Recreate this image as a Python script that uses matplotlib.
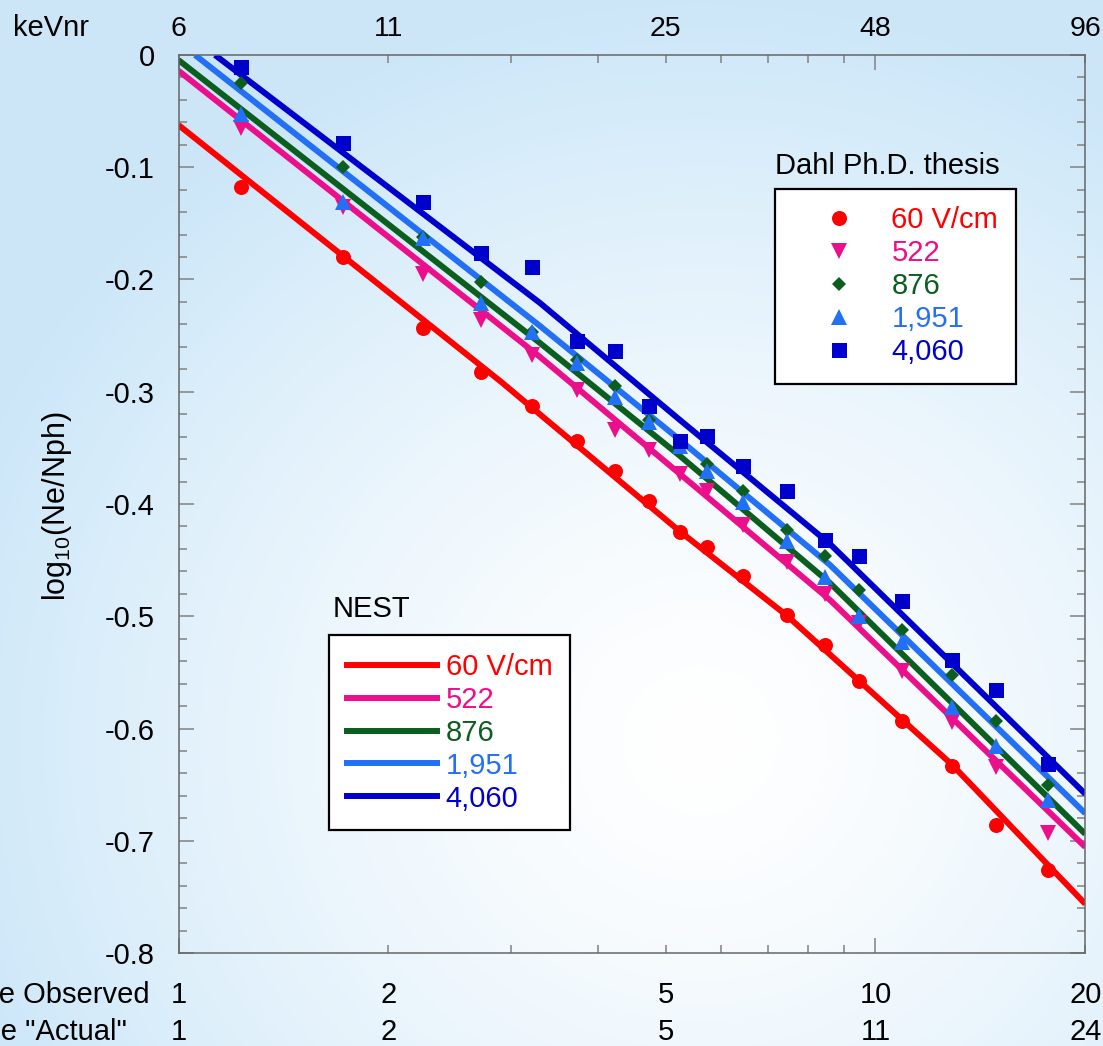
import numpy as np
import matplotlib
matplotlib.use('Agg')
import matplotlib.pyplot as plt
from matplotlib.lines import Line2D
from matplotlib.ticker import LogLocator, MultipleLocator, NullFormatter, FuncFormatter
import matplotlib.transforms as mtransforms

plt.rcParams['font.family'] = ['Liberation Sans', 'DejaVu Sans']
plt.rcParams['axes.unicode_minus'] = False
plt.rcParams['mathtext.fontset'] = 'custom'
plt.rcParams['mathtext.rm'] = 'Liberation Sans'
plt.rcParams['mathtext.it'] = 'Liberation Sans:italic'

# ---------------- data ----------------
fields = ['60 V/cm', '522', '876', '1,951', '4,060']
colors = ['#ff0000', '#ec0f8c', '#0b5e1e', '#2270f5', '#0000cd']
markers = ['o', 'v', 'D', '^', 's']
marker_sizes = [10.8, 11.5, 7.3, 11.5, 10.8]

# Dahl Ph.D. thesis data (x = keVee observed)
dahl_x = [1.23, 1.72, 2.24, 2.72, 3.22, 3.73, 4.23, 4.73, 5.24, 5.74,
          6.46, 7.46, 8.46, 9.47, 10.93, 12.89, 14.87, 17.70]
dahl_60 = [-0.118, -0.180, -0.243, -0.282, -0.313, -0.344, -0.371, -0.397, -0.425, -0.438,
           -0.464, -0.499, -0.526, -0.558, -0.593, -0.633, -0.686, -0.726]
dahl_522 = [-0.065, -0.135, -0.195, -0.236, -0.267, -0.298, -0.334, -0.352, -0.373, -0.388,
            -0.419, -0.452, -0.480, -0.506, -0.549, -0.594, -0.634, -0.693]
dahl_876 = [-0.025, -0.100, -0.162, -0.202, -0.247, -0.272, -0.295, -0.325, -0.349, -0.364,
            -0.388, -0.423, -0.446, -0.477, -0.512, -0.552, -0.593, -0.650]
dahl_1951 = [-0.053, -0.131, -0.163, -0.221, -0.247, -0.274, -0.305, -0.327, -0.348, -0.371,
             -0.398, -0.433, -0.465, -0.500, -0.523, -0.581, -0.616, -0.664]
dahl_4060 = [-0.011, -0.078, -0.131, -0.176, -0.189, -0.255, -0.264, -0.313, -0.344, -0.339,
             -0.366, -0.388, -0.432, -0.446, -0.486, -0.539, -0.566, -0.632]
dahl_series = [dahl_60, dahl_522, dahl_876, dahl_1951, dahl_4060]

# NEST model curves
nest_60_x = [1.0, 2.893, 5.242, 7.458, 12.89, 20.0]
nest_60_y = [-0.0624, -0.2904, -0.4245, -0.4993, -0.6325, -0.7563]
nest_522_x = [1.0, 3.301, 5.242, 8.604, 20.0]
nest_522_y = [-0.0140, -0.2690, -0.3733, -0.4855, -0.7056]
nest_876_x = [1.0, 3.301, 5.242, 8.604, 20.0]
nest_876_y = [-0.0045, -0.2566, -0.3572, -0.4704, -0.6940]
nest_1951_x = [1.056, 3.301, 5.242, 8.604, 20.0]
nest_1951_y = [0.0, -0.2414, -0.3430, -0.4543, -0.6756]
nest_4060_x = [1.128, 3.301, 5.242, 8.604, 20.0]
nest_4060_y = [0.0, -0.2209, -0.3252, -0.4356, -0.6583]
nest_series = [(nest_60_x, nest_60_y), (nest_522_x, nest_522_y), (nest_876_x, nest_876_y),
               (nest_1951_x, nest_1951_y), (nest_4060_x, nest_4060_y)]

# axis labels
x_ticks = [1, 2, 5, 10, 20]
keVee_obs_labels = ['1', '2', '5', '10', '20']
keVee_act_labels = ['1', '2', '5', '11', '24']
keVnr_labels = ['6', '11', '25', '48', '96']

# ---------------- figure ----------------
W, H = 1103, 1046
fig = plt.figure(figsize=(W / 100, H / 100), dpi=100)

# background gradient
bg = fig.add_axes([0, 0, 1, 1], zorder=-10)
yy, xx = np.mgrid[0:H, 0:W]
t = np.sqrt(((xx - 700) / 780.0) ** 2 + ((yy - 740) / 740.0) ** 2)
t = np.clip(t, 0, 1) ** 1.4
edge = np.array([0.80, 0.905, 0.975])
center = np.array([1.0, 1.0, 1.0])
img = center * (1 - t[..., None]) + edge * t[..., None]
bg.imshow(img, extent=[0, 1, 0, 1], aspect='auto', origin='upper')
bg.axis('off')

ax = fig.add_axes([178.5 / W, 1 - 953 / H, (1085.3 - 178.5) / W, (953 - 55) / H])
ax.set_facecolor('none')
ax.set_xscale('log')

for (nx, ny), c in zip(nest_series, colors):
    ax.plot(nx, ny, color=c, lw=4.3, solid_capstyle='butt', solid_joinstyle='round', zorder=2)

for ys, c, m, ms in zip(dahl_series, colors, markers, marker_sizes):
    ax.plot(dahl_x, ys, ls='none', marker=m, ms=ms, color=c, mec=c, mew=0, zorder=3)

ax.set_xlim(1, 20)
ax.set_ylim(-0.8, 0)

ax.yaxis.set_major_locator(MultipleLocator(0.1))
ax.yaxis.set_minor_locator(MultipleLocator(0.02))
ax.yaxis.set_major_formatter(FuncFormatter(lambda v, p: '0' if abs(v) < 1e-9 else f'{v:.1f}'))
ax.xaxis.set_major_locator(LogLocator(base=10, numticks=10))
ax.xaxis.set_minor_locator(LogLocator(base=10, subs=np.arange(2, 10), numticks=10))
ax.xaxis.set_major_formatter(NullFormatter())
ax.xaxis.set_minor_formatter(NullFormatter())

ax.tick_params(which='both', direction='in', top=True, right=True, color='#8a8a8a', width=1.2)
ax.tick_params(which='major', length=11)
ax.tick_params(which='minor', length=5.5)
ax.tick_params(axis='y', labelsize=21, pad=17)
for s in ax.spines.values():
    s.set_color('#666666')
    s.set_linewidth(1.1)

# x labels rows
trans = mtransforms.blended_transform_factory(ax.transData, fig.transFigure)
for xv, lo, la, ln in zip(x_ticks, keVee_obs_labels, keVee_act_labels, keVnr_labels):
    ax.text(xv, 1 - 1003 / H, lo, transform=trans, ha='center', va='baseline', fontsize=21, clip_on=False)
    ax.text(xv, 1 - 1040 / H, la, transform=trans, ha='center', va='baseline', fontsize=21, clip_on=False)
    ax.text(xv, 1 - 36 / H, ln, transform=trans, ha='center', va='baseline', fontsize=20.5, clip_on=False)

fig.text(89 / W, 1 - 36 / H, 'keVnr', ha='right', va='baseline', fontsize=21)
fig.text(150 / W, 1 - 1003 / H, 'keVee Observed', ha='right', va='baseline', fontsize=21)
fig.text(127 / W, 1 - 1040 / H, 'keVee "Actual"', ha='right', va='baseline', fontsize=21)

fig.text(57 / W, 1 - 506 / H, r'log$_{\mathregular{10}}$(Ne/Nph)', rotation=90,
         ha='center', va='center', fontsize=22)

# Dahl legend
dahl_handles = [Line2D([], [], ls='none', marker=m, ms=ms, color=c, mec=c, mew=0)
                for c, m, ms in zip(colors, markers, marker_sizes)]
leg1 = ax.legend(dahl_handles, fields, loc='upper left',
                 bbox_to_anchor=(775 / W, 1 - 189 / H), bbox_transform=fig.transFigure,
                 frameon=True, fancybox=False, framealpha=1, edgecolor='black',
                 fontsize=21, borderpad=0.6, handlelength=3.16, handletextpad=0.23,
                 labelspacing=0.17, borderaxespad=0, labelcolor=colors)
leg1.get_frame().set_linewidth(1.6)
leg1.set_zorder(5)
ax.add_artist(leg1)
fig.text(775 / W, 1 - 173.5 / H, 'Dahl Ph.D. thesis', ha='left', va='baseline', fontsize=21)

# NEST legend
nest_handles = [Line2D([], [], color=c, lw=4.3) for c in colors]
leg2 = ax.legend(nest_handles, fields, loc='upper left',
                 bbox_to_anchor=(329 / W, 1 - 635.3 / H), bbox_transform=fig.transFigure,
                 frameon=True, fancybox=False, framealpha=1, edgecolor='black',
                 fontsize=21, borderpad=0.6, handlelength=3.1, handletextpad=0.3,
                 labelspacing=0.17, borderaxespad=0, labelcolor=colors)
leg2.get_frame().set_linewidth(1.6)
leg2.set_zorder(5)
fig.text(333 / W, 1 - 617.3 / H, 'NEST', ha='left', va='baseline', fontsize=21)

fig.savefig('out.png', dpi=100)
